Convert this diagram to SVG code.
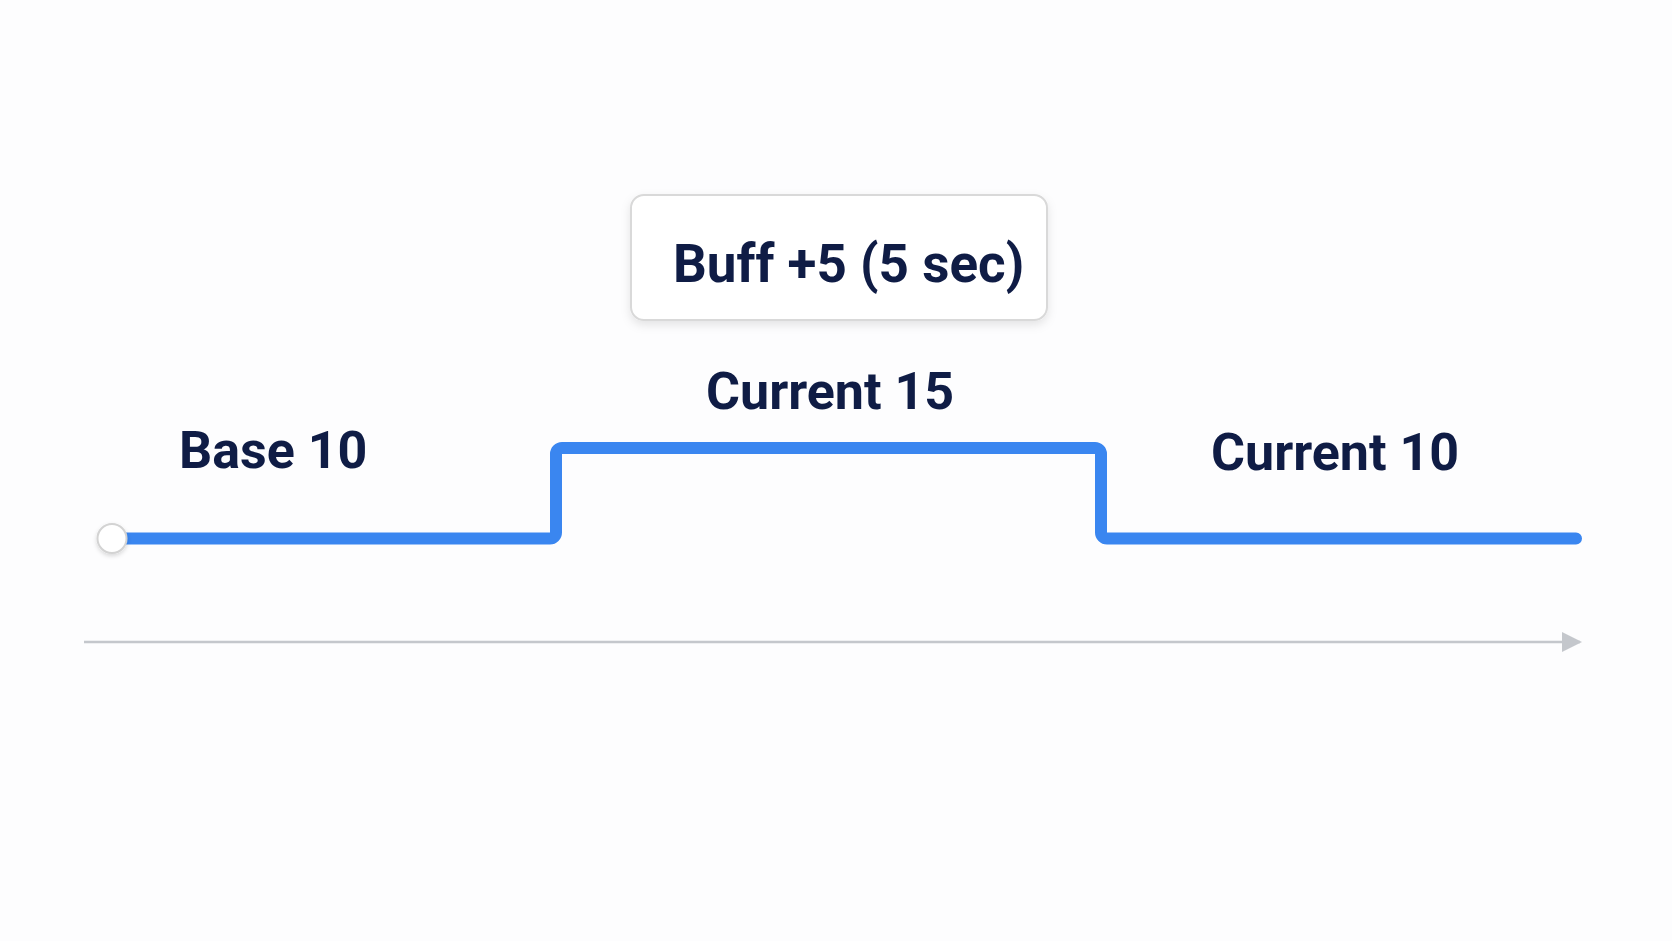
<svg xmlns="http://www.w3.org/2000/svg" width="1672" height="941" viewBox="0 0 1672 941">
  <defs>
    <style>
      .lbl { font-family: Roboto, "Liberation Sans", sans-serif; font-weight: 700; fill: #0F1C45; }
      .step { fill: none; stroke: #3A86F0; stroke-width: 12; stroke-linecap: round; stroke-linejoin: round; }
      .axis { stroke: #C4C7CC; stroke-width: 2.5; fill: none; }
    </style>
    <filter id="shadow" x="-10%" y="-20%" width="120%" height="150%">
      <feDropShadow dx="0" dy="4" stdDeviation="5" flood-color="#000000" flood-opacity="0.10"/>
    </filter>
    <filter id="cshadow" x="-50%" y="-50%" width="200%" height="200%">
      <feDropShadow dx="0" dy="2" stdDeviation="2" flood-color="#000000" flood-opacity="0.15"/>
    </filter>
    <marker id="arrow" viewBox="0 0 20 20" refX="18" refY="10" markerWidth="20" markerHeight="20" markerUnits="userSpaceOnUse" orient="auto">
      <path d="M0,0 L20,10 L0,20 Z" fill="#C4C7CC"/>
    </marker>
  </defs>
  <rect width="1672" height="941" fill="#FDFDFE"/>

  <g id="connectors">
    <line class="axis" x1="84" y1="642" x2="1580" y2="642" marker-end="url(#arrow)"/>
    <path id="step-line" class="step" d="M112,538.5 H550 A6,6 0 0 0 556,532.5 V454 A6,6 0 0 1 562,448 H1095 A6,6 0 0 1 1101,454 V532.5 A6,6 0 0 0 1107,538.5 H1576"/>
  </g>

  <g id="start-point">
    <circle cx="112" cy="538.5" r="14.5" fill="#FFFFFF" stroke="#D3D3D3" stroke-width="2" filter="url(#cshadow)"/>
  </g>

  <g id="buff-box">
    <rect x="631" y="195" width="416" height="125" rx="13" fill="#FFFFFF" stroke="#D9D9D9" stroke-width="2" filter="url(#shadow)"/>
    <text class="lbl" x="673" y="282" font-size="53">Buff +5 (5 sec)</text>
  </g>

  <g id="label-base">
    <text class="lbl" x="179" y="468" font-size="52">Base 10</text>
  </g>

  <g id="label-current15">
    <text class="lbl" x="706" y="409" font-size="52">Current 15</text>
  </g>

  <g id="label-current10">
    <text class="lbl" x="1211" y="470" font-size="52">Current 10</text>
  </g>
</svg>
